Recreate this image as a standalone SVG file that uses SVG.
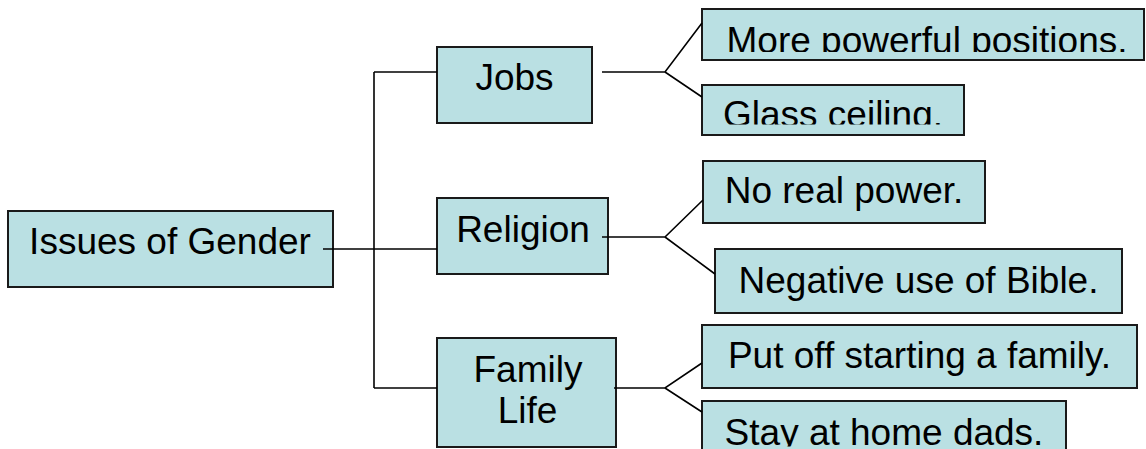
<svg xmlns="http://www.w3.org/2000/svg" width="1146" height="449" viewBox="0 0 1146 449">
  <style>
    .box { fill: #BAE0E3; stroke: #1a1a1a; stroke-width: 2; }
    .lbl { font-family: "Liberation Sans", Arial, sans-serif; font-size: 37px; fill: #000; text-anchor: middle; }
    .conn { fill: none; stroke: #000; stroke-width: 1.6; }
  </style>
  <defs>
    <clipPath id="clipMore"><rect x="702" y="9" width="442" height="43"/></clipPath>
    <clipPath id="clipGlass"><rect x="702" y="85" width="262" height="39.5"/></clipPath>
    <clipPath id="clipStay"><rect x="702" y="401" width="364" height="45.5"/></clipPath>
  </defs>
  <rect width="1146" height="449" fill="#ffffff"/>

  <g id="node-issues">
    <rect class="box" x="8" y="211" width="325" height="76"/>
    <text class="lbl" x="170" y="254">Issues of Gender</text>
  </g>
  <g id="node-jobs">
    <rect class="box" x="437" y="47" width="155" height="76"/>
    <text class="lbl" x="514.5" y="90">Jobs</text>
  </g>
  <g id="node-religion">
    <rect class="box" x="437" y="198" width="171" height="76"/>
    <text class="lbl" x="523" y="242">Religion</text>
  </g>
  <g id="node-family">
    <rect class="box" x="437" y="338" width="179" height="109"/>
    <text class="lbl" x="528" y="382">Family</text>
    <text class="lbl" x="527.5" y="423">Life</text>
  </g>
  <g id="node-more">
    <rect class="box" x="702" y="9" width="442" height="51"/>
    <text class="lbl" x="927" y="53" clip-path="url(#clipMore)">More powerful positions.</text>
  </g>
  <g id="node-glass">
    <rect class="box" x="702" y="85" width="262" height="50"/>
    <text class="lbl" x="833" y="127" clip-path="url(#clipGlass)">Glass ceiling.</text>
  </g>
  <g id="node-noreal">
    <rect class="box" x="703" y="161" width="282" height="62"/>
    <text class="lbl" x="844" y="203">No real power.</text>
  </g>
  <g id="node-negative">
    <rect class="box" x="715" y="249" width="407" height="64"/>
    <text class="lbl" x="918.5" y="293">Negative use of Bible.</text>
  </g>
  <g id="node-putoff">
    <rect class="box" x="702" y="325" width="435" height="63"/>
    <text class="lbl" x="919.5" y="368">Put off starting a family.</text>
  </g>
  <g id="node-stay">
    <rect class="box" x="702" y="401" width="364" height="60"/>
    <text class="lbl" x="884" y="445" clip-path="url(#clipStay)">Stay at home dads.</text>
  </g>

  <g id="connectors">
    <path class="conn" d="M323 249 H437"/>
    <path class="conn" d="M374 72 V388"/>
    <path class="conn" d="M374 72 H437"/>
    <path class="conn" d="M374 388 H437"/>
    <path class="conn" d="M602 72 H665 L702 23 M665 72 L702 97"/>
    <path class="conn" d="M602 237 H665 L703 200 M665 237 L715 274"/>
    <path class="conn" d="M614 388 H665 L702 363 M665 388 L702 412"/>
  </g>
</svg>
